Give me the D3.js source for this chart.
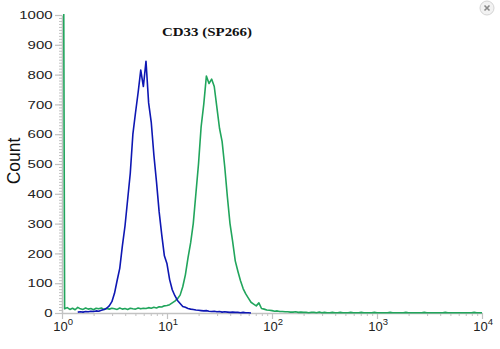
<!DOCTYPE html>
<html>
<head>
<meta charset="utf-8">
<script src="https://cdn.jsdelivr.net/npm/d3@7"></script>
<style>
  body { margin: 0; background: #fff; }
  svg { display: block; }
</style>
</head>
<body>
<div id="chart"></div>
<script>
// histogram channels, log10 positions start + i * step
const binStep = 0.025;
const blueStart = 0.15;
const greenStart = 0;

const blueCounts = [3,4,3,5,4,6,5,7,6,9,12,16,24,38,66,109,150,225,292,380,468,600,672,740,
    815,760,845,705,640,530,440,340,262,192,165,112,78,58,42,32,22,19,15,13,12,10,9,8,7,8,
    6,5,6,4,5,3,4,3,2,3,2,2,1,2,1,1,0];

const greenCounts = [3000,
    14,18,12,16,11,19,14,12,17,13,15,11,16,14,17,12,15,13,16,14,
    12,17,13,15,12,16,14,13,17,14,16,15,18,16,19,17,21,20,24,
    25,28,34,40,48,60,88,128,185,235,300,400,500,625,700,795,770,785,760,690,
    620,575,490,390,300,240,175,140,108,82,64,50,36,30,24,34,15,13,10,9,
    8,6,7,5,5,4,4,3,3,4,2,3,2,
    2,1,2,2,1,3,1,2,1,1,2,1,1,2,1,1,1,2,1,1,
    1,2,1,1,1,1,2,1,1,1,1,1,2,1,1,1,1,1,2,1,
    1,1,1,1,1,2,1,1,1,1,1,1,1,2,1,1,1,1,1,1,
    1,1,1,1,2,1,1,1];

const yTicks = [0,100,200,300,400,500,600,700,800,900,1000];
const xTicks = [1,10,100,1000,10000];
const xExponents = ["0","1","2","3","4"];
const chartTitle = "CD33 (SP266)";
const yLabel = "Count";

const W = 500, H = 349;
const axisColor = "#c2c2c2";
const blue = "#0e17b3";
const green = "#21a55c";

const x = d3.scaleLog().domain([1, 1e4]).range([62, 482]);
const y = d3.scaleLinear().domain([0, 1000]).range([313, 15]);

const svg = d3.select("#chart").append("svg")
    .attr("width", W)
    .attr("height", H);

svg.append("defs").append("clipPath").attr("id", "plot")
    .append("rect")
    .attr("x", 61).attr("y", 14)
    .attr("width", 423).attr("height", 300);

// y axis, minor ticks first
const yMinor = svg.append("g")
    .attr("transform", "translate(62,0)")
    .call(d3.axisLeft(y).tickValues(d3.range(0, 1001, 10)).tickSize(3).tickFormat(""));
yMinor.select(".domain").remove();
yMinor.selectAll("line").attr("stroke", axisColor);

const yAxis = svg.append("g")
    .attr("transform", "translate(62,0)")
    .call(d3.axisLeft(y).tickValues(yTicks).tickSize(7).tickPadding(2.5)
        .tickSizeOuter(0).tickFormat(d3.format("d")));
yAxis.select(".domain").attr("stroke", axisColor).attr("stroke-width", 1.5);
yAxis.selectAll("line").attr("stroke", axisColor).attr("stroke-width", 1.2);
yAxis.selectAll("text")
    .attr("font-family", "'Liberation Sans', Arial, sans-serif")
    .attr("font-size", 11.6)
    .attr("fill", "#222")
    .attr("textLength", d => String(d).length * 8.3)
    .attr("lengthAdjust", "spacingAndGlyphs");

// x axis
const xMinorVals = [];
xTicks.slice(0, -1).forEach(d => {
    for (let k = 2; k < 10; k++) xMinorVals.push(d * k);
});
const xMinor = svg.append("g")
    .attr("transform", "translate(0,313)")
    .call(d3.axisBottom(x).tickValues(xMinorVals).tickSize(3).tickFormat(""));
xMinor.select(".domain").remove();
xMinor.selectAll("line").attr("stroke", axisColor);

const xAxis = svg.append("g")
    .attr("transform", "translate(0,313)")
    .call(d3.axisBottom(x).tickValues(xTicks).tickSize(6).tickSizeOuter(0).tickFormat(""));
xAxis.select(".domain").attr("stroke", axisColor).attr("stroke-width", 1.5);
xAxis.selectAll("line").attr("stroke", axisColor).attr("stroke-width", 1.2);

const xLab = svg.append("g")
    .attr("font-family", "'Liberation Sans', Arial, sans-serif")
    .attr("fill", "#222")
    .selectAll("text")
    .data(xTicks)
    .enter().append("text")
    .attr("x", d => x(d) - 8.7)
    .attr("y", 331)
    .attr("font-size", 13);
xLab.append("tspan").text("10");
xLab.append("tspan")
    .attr("font-size", 9.5)
    .attr("dy", -6)
    .text((d, i) => xExponents[i]);

// histograms
const line = d3.line()
    .x(d => x(d.v))
    .y(d => y(d.c));

const toPoints = (start, counts) => counts.map((c, i) => ({ v: Math.pow(10, start + i * binStep), c }));

const plot = svg.append("g").attr("clip-path", "url(#plot)");

plot.append("path")
    .datum(toPoints(greenStart, greenCounts))
    .attr("fill", "none")
    .attr("stroke", green)
    .attr("stroke-width", 1.6)
    .attr("stroke-linejoin", "round")
    .attr("d", line);

plot.append("path")
    .datum(toPoints(blueStart, blueCounts))
    .attr("fill", "none")
    .attr("stroke", blue)
    .attr("stroke-width", 1.6)
    .attr("stroke-linejoin", "round")
    .attr("d", line);

// title and y label
svg.append("text")
    .attr("x", 162)
    .attr("y", 36)
    .attr("font-family", "'Liberation Serif', 'Times New Roman', serif")
    .attr("font-weight", "bold")
    .attr("font-size", 13.5)
    .attr("textLength", 90)
    .attr("lengthAdjust", "spacingAndGlyphs")
    .attr("fill", "#111")
    .text(chartTitle);

svg.append("text")
    .attr("transform", "translate(20,161) rotate(-90) scale(1,1.1)")
    .attr("text-anchor", "middle")
    .attr("font-family", "'Liberation Sans', Arial, sans-serif")
    .attr("font-size", 17.5)
    .attr("fill", "#111")
    .text(yLabel);

// close button in the corner
const closeBtn = svg.append("g").attr("transform", "translate(487,8)");
closeBtn.append("circle")
    .attr("r", 7)
    .attr("fill", "#f2f2f2")
    .attr("stroke", "#d4d4d4");
closeBtn.append("path")
    .attr("d", "M-2.5,-2.5L2.5,2.5M2.5,-2.5L-2.5,2.5")
    .attr("stroke", "#8a8a8a")
    .attr("stroke-width", 1.6);
</script>
</body>
</html>
